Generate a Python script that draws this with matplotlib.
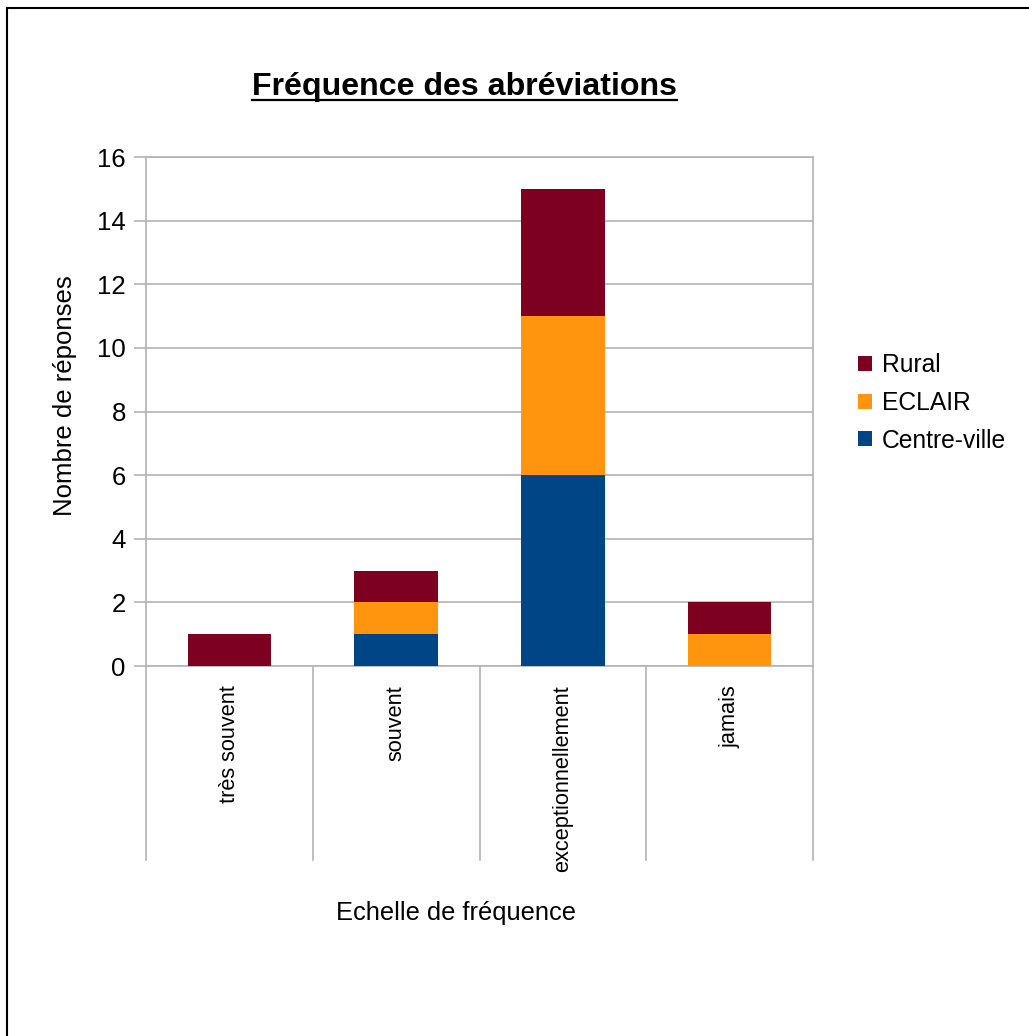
import matplotlib
matplotlib.use('Agg')
import matplotlib.pyplot as plt
from matplotlib.lines import Line2D
import numpy as np

plt.rcParams['font.family'] = ['Liberation Sans', 'DejaVu Sans']

# data
categories = ['très souvent', 'souvent', 'exceptionnellement', 'jamais']
centre_ville = [0, 1, 6, 0]
eclair = [0, 1, 5, 1]
rural = [1, 1, 4, 1]

colors = {'Rural': '#7e0021', 'ECLAIR': '#ff950e', 'Centre-ville': '#004586'}
grid_col = '#b3b3b3'
W, H = 1029, 1036

fig = plt.figure(figsize=(W / 100, H / 100), dpi=100)
ax = fig.add_axes([146 / W, 1 - 666 / H, (813 - 146) / W, (666 - 157) / H])

x = np.arange(len(categories))
c = np.array(centre_ville)
e = np.array(eclair)
r = np.array(rural)
b1 = ax.bar(x, c, width=0.5, color=colors['Centre-ville'], zorder=3)
b2 = ax.bar(x, e, width=0.5, bottom=c, color=colors['ECLAIR'], zorder=3)
b3 = ax.bar(x, r, width=0.5, bottom=c + e, color=colors['Rural'], zorder=3)

ax.set_xlim(-0.5, len(categories) - 0.5)
ax.set_ylim(0, 16)
ax.set_yticks(range(0, 17, 2))
ax.yaxis.grid(True, color=grid_col, linewidth=1.2, zorder=0)
for s in ax.spines.values():
    s.set_color(grid_col)
    s.set_linewidth(1.2)
ax.tick_params(axis='y', length=8.5, width=1.2, color=grid_col, labelsize=18.5, pad=6)
ax.set_xticks(x)
ax.set_xticklabels(categories, rotation=90, fontsize=15.7, va='top')
ax.tick_params(axis='x', length=0, pad=14)

# category separators below the axis
for xs in np.arange(-0.5, len(categories), 1.0):
    ax.plot([xs, xs], [0, -(860 - 666) / (666 - 157)], color=grid_col,
            linewidth=1.2, transform=ax.get_xaxis_transform(), clip_on=False)

fig.text(65 / W, 1 - 396 / H, 'Nombre de réponses', rotation=90,
         ha='center', va='center', fontsize=18.5)
fig.text(456 / W, 1 - 913 / H, 'Echelle de fréquence',
         ha='center', va='center', fontsize=18.3)

title = fig.text(464 / W, 1 - 95 / H, 'Fréquence des abréviations',
                 ha='center', va='baseline', fontsize=23.1, fontweight='bold')

fig.legend([b3, b2, b1], ['Rural', 'ECLAIR', 'Centre-ville'],
           loc='center left', bbox_to_anchor=(858 / W, 1 - 403 / H),
           frameon=False, fontsize=17.7, handlelength=0.55, handleheight=0.55,
           handletextpad=0.42, labelspacing=0.55, borderpad=0, borderaxespad=0)

# underline the title
fig.canvas.draw()
bb = title.get_window_extent()
uy = 1 - 100 / H
fig.add_artist(Line2D([bb.x0 / W, bb.x1 / W], [uy, uy], color='black',
                      linewidth=1.6))

# frame lines (top and left)
fig.add_artist(Line2D([7 / W, 1], [1 - 8 / H, 1 - 8 / H], color='black', linewidth=1.5))
fig.add_artist(Line2D([7 / W, 7 / W], [0, 1 - 8 / H], color='black', linewidth=1.5))

fig.savefig('out.png', dpi=100)
